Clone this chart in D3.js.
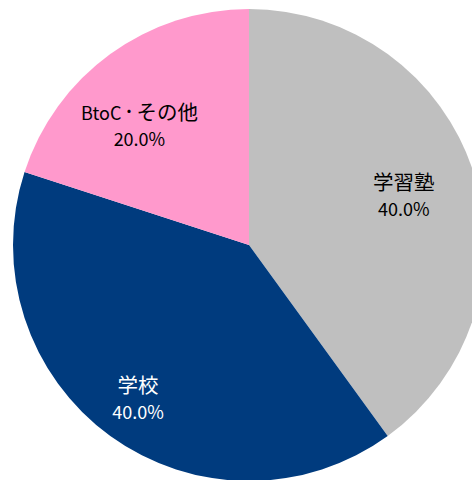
<!DOCTYPE html>
<html><head><meta charset="utf-8">
<script src="https://cdn.jsdelivr.net/npm/d3@7"></script>
<style>html,body{margin:0;padding:0;background:#fff;}svg{display:block;}</style>
</head><body>
<svg id="c" width="472" height="480"></svg>
<script>
const categories = ["学習塾", "学校", "BtoC・その他"];
const values = [40.0, 40.0, 20.0];
const colors = ["#BFBFBF", "#003B7E", "#FF99CC"];
const labelColors = ["#000000", "#ffffff", "#000000"];

const svg = d3.select("#c");
const cx = 249, cy = 245, R = 236;
const g = svg.append("g").attr("transform", `translate(${cx},${cy})`);
const pie = d3.pie().sort(null).value(d => d)(values);
const arc = d3.arc().innerRadius(0).outerRadius(R);
g.selectAll("path").data(pie).enter().append("path")
  .attr("d", arc).attr("fill", (d, i) => colors[i]);

const labelR = [0.69, 0.80, 0.69];
const angShift = [0, 0, -0.11];
const fmt = d3.format(".1f");
const FONT = "'Noto Sans CJK JP', sans-serif";
function charSize(ch) {
  if (ch === "・") return 15;
  return ch.charCodeAt(0) < 0x2000 ? 18 : 20.5;
}
function runs(s) {
  const out = [];
  for (const ch of s) {
    const sz = charSize(ch);
    if (out.length && out[out.length - 1].sz === sz) out[out.length - 1].t += ch;
    else out.push({ t: ch, sz });
  }
  return out;
}
pie.forEach((d, i) => {
  const a = (d.startAngle + d.endAngle) / 2 + angShift[i];
  const r = R * labelR[i];
  const x = Math.sin(a) * r, y = -Math.cos(a) * r;
  const t1 = g.append("text").attr("text-anchor", "middle")
    .attr("x", x).attr("y", y - 5)
    .attr("font-family", FONT)
    .attr("fill", labelColors[i]);
  let shifted = 0;
  runs(categories[i]).forEach(rn => {
    const sp = t1.append("tspan").attr("font-size", rn.sz).text(rn.t);
    const want = rn.t === "・" ? -3 : 0;
    if (want !== shifted) { sp.attr("dy", want - shifted); shifted = want; }
  });
  g.append("text").attr("text-anchor", "middle")
    .attr("x", x).attr("y", y + 21)
    .attr("font-family", FONT)
    .attr("font-size", 18).attr("fill", labelColors[i])
    .text(fmt(values[i]) + "%");
});
</script>
</body></html>
